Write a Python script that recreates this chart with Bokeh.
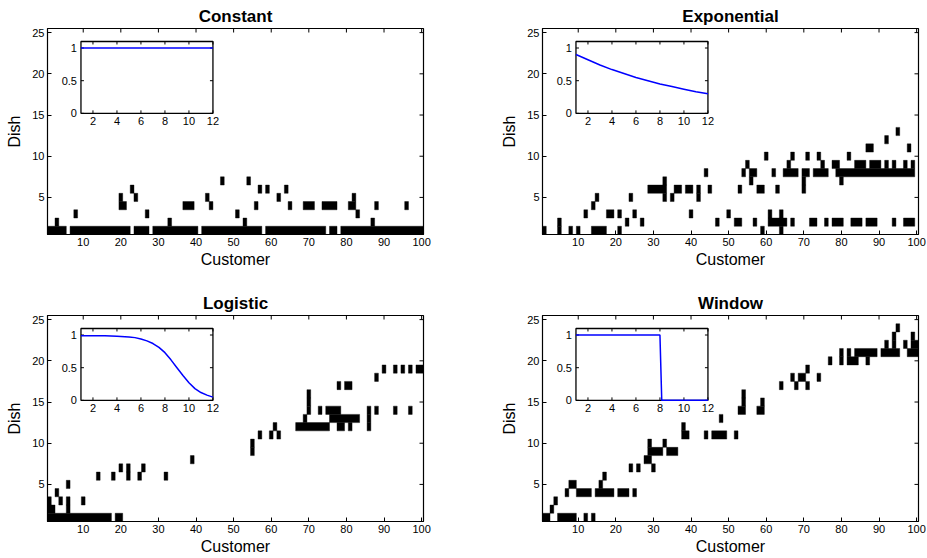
import math
from bokeh.plotting import figure
from bokeh.layouts import row, column
from bokeh.models import Range1d, FixedTicker, ColumnDataSource
from bokeh.embed import file_html
from bokeh.resources import INLINE
from bokeh.core.properties import value

FONT = "Liberation Sans"

# ---------------- data ----------------
TITLES = ["Constant", "Exponential", "Logistic", "Window"]
X_LABEL = "Customer"
Y_LABEL = "Dish"
X_TICKS = [10, 20, 30, 40, 50, 60, 70, 80, 90, 100]
Y_TICKS = [5, 10, 15, 20, 25]
INSET_X_TICKS = [2, 4, 6, 8, 10, 12]
INSET_Y_TICKS = [0, 0.5, 1]
INSET_Y_LABELS = ["0", "0.5", "1"]

# black cells as runs: (dish, first customer, last customer)
CONSTANT_CELLS = [
    (1, 1, 5), (1, 7, 22), (1, 24, 27), (1, 29, 40), (1, 42, 57), (1, 59, 74), (1, 76, 77), (1, 79, 100),
    (2, 3, 3), (2, 33, 33), (2, 53, 53), (2, 87, 87),
    (3, 8, 8), (3, 27, 27), (3, 51, 51), (3, 83, 83),
    (4, 20, 21), (4, 37, 39), (4, 44, 44), (4, 56, 56), (4, 65, 65), (4, 69, 71), (4, 74, 77), (4, 81, 82),
    (4, 88, 88), (4, 96, 96),
    (5, 20, 20), (5, 24, 24), (5, 43, 43), (5, 62, 62), (5, 82, 82),
    (6, 23, 23), (6, 57, 57), (6, 59, 59), (6, 64, 64),
    (7, 47, 47), (7, 54, 54),
]

EXPONENTIAL_CELLS = [
    (1, 1, 1), (1, 5, 5), (1, 8, 8), (1, 10, 10), (1, 14, 17), (1, 21, 21), (1, 59, 59), (1, 64, 64),
    (2, 5, 5), (2, 23, 23), (2, 27, 27), (2, 47, 47), (2, 52, 53), (2, 57, 57), (2, 61, 65), (2, 67, 67),
    (2, 72, 73), (2, 76, 76), (2, 78, 80), (2, 83, 85), (2, 87, 89), (2, 94, 94), (2, 97, 99),
    (3, 12, 12), (3, 18, 19), (3, 21, 21), (3, 25, 25), (3, 40, 40), (3, 50, 50), (3, 61, 61), (3, 64, 64),
    (4, 14, 14),
    (5, 15, 15), (5, 24, 24), (5, 33, 33), (5, 35, 35), (5, 42, 42),
    (6, 29, 33), (6, 36, 37), (6, 39, 40), (6, 42, 42), (6, 45, 45), (6, 53, 53), (6, 58, 59), (6, 63, 63),
    (6, 70, 70),
    (7, 33, 33), (7, 56, 56), (7, 70, 70), (7, 80, 80),
    (8, 44, 44), (8, 54, 54), (8, 56, 57), (8, 62, 62), (8, 65, 68), (8, 70, 71), (8, 73, 76), (8, 79, 99),
    (9, 55, 55), (9, 66, 66), (9, 75, 75), (9, 78, 79), (9, 84, 86), (9, 88, 90), (9, 92, 92), (9, 94, 94),
    (9, 97, 97), (9, 99, 99),
    (10, 60, 60), (10, 67, 67), (10, 71, 71), (10, 74, 74), (10, 82, 82),
    (11, 87, 88), (11, 98, 98),
    (12, 92, 92),
    (13, 95, 95),
]

LOGISTIC_CELLS = [
    (1, 1, 17), (1, 19, 20),
    (2, 1, 2), (2, 6, 6),
    (3, 1, 1), (3, 4, 4), (3, 6, 6), (3, 10, 10),
    (4, 3, 3),
    (5, 6, 6),
    (6, 14, 14), (6, 18, 18), (6, 22, 22), (6, 25, 25), (6, 32, 32),
    (7, 20, 20), (7, 22, 22), (7, 26, 26),
    (8, 39, 39),
    (9, 55, 55), (10, 55, 55),
    (11, 57, 57), (11, 60, 60), (11, 62, 62),
    (12, 61, 61), (12, 67, 75), (12, 78, 79), (12, 81, 81), (12, 86, 86),
    (13, 69, 69), (13, 76, 83), (13, 86, 86),
    (14, 70, 70), (14, 73, 73), (14, 75, 78), (14, 86, 86), (14, 88, 88), (14, 93, 93), (14, 97, 97),
    (15, 70, 70), (16, 70, 70),
    (17, 78, 78), (17, 80, 81),
    (18, 88, 88),
    (19, 90, 90), (19, 93, 93), (19, 95, 95), (19, 97, 97), (19, 99, 100),
]

WINDOW_CELLS = [
    (1, 1, 2), (1, 5, 9), (1, 12, 12), (1, 14, 14),
    (2, 3, 3), (3, 4, 4),
    (4, 7, 7), (4, 10, 13), (4, 15, 19), (4, 21, 23), (4, 25, 25),
    (5, 8, 9), (5, 16, 16),
    (6, 17, 17),
    (7, 24, 24), (7, 26, 26), (7, 30, 30),
    (8, 28, 29),
    (9, 29, 32), (9, 34, 36),
    (10, 29, 29), (10, 33, 33),
    (11, 38, 39), (11, 44, 44), (11, 46, 49), (11, 52, 52),
    (12, 38, 38),
    (13, 48, 48),
    (14, 53, 54), (14, 58, 59),
    (15, 54, 54), (15, 59, 59),
    (16, 54, 54),
    (17, 64, 64), (17, 68, 68), (17, 71, 71),
    (18, 67, 67), (18, 69, 70), (18, 74, 74),
    (19, 71, 71),
    (20, 77, 77), (20, 80, 80), (20, 82, 84), (20, 87, 87),
    (21, 80, 80), (21, 82, 82), (21, 84, 89), (21, 91, 95), (21, 98, 100),
    (22, 92, 92), (22, 94, 94), (22, 97, 97), (22, 99, 100),
    (23, 94, 94), (23, 99, 99),
    (24, 95, 95),
]

# inset decay curves
CONST_T = [1, 12]
CONST_W = [1.0, 1.0]
EXP_T = [1, 2, 3, 4, 5, 6, 7, 8, 9, 10, 11, 12]
EXP_W = [0.90, 0.82, 0.74, 0.67, 0.61, 0.55, 0.50, 0.45, 0.41, 0.37, 0.33, 0.30]
LOG_T = [1, 2, 3, 4, 5, 5.5, 6, 6.5, 7, 7.5, 8, 8.5, 9, 9.5, 10, 10.5, 11, 11.5, 12]
LOG_W = [0.99, 0.99, 0.99, 0.98, 0.97, 0.96, 0.94, 0.91, 0.87, 0.81, 0.73, 0.62, 0.50, 0.38, 0.27,
         0.18, 0.12, 0.08, 0.05]
WIN_T = [1, 8, 8.15, 12]
WIN_W = [1.0, 1.0, 0.0, 0.0]

# ---------------- layout constants ----------------
FW, FH = 376, 206
X_MIN, X_MAX = 0.5, 100.5
Y_MIN, Y_MAX = 0.5, 25.5
INSET_T0, INSET_T1 = 1, 12
INSET_W0, INSET_W1 = 0, 1.1
# inset box expressed as fractions of the main frame
IFX0, IFX1 = 0.089, 0.440
IFY0, IFY1 = 0.588, 0.937


def make_panel(title, cells, t, w, lb, rb, tb, bb):
    p = figure(frame_width=FW, frame_height=FH,
               x_range=Range1d(X_MIN, X_MAX), y_range=Range1d(Y_MIN, Y_MAX),
               output_backend="svg", toolbar_location=None, title=title,
               min_border_left=lb, min_border_right=rb, min_border_top=tb, min_border_bottom=bb)
    p.title.text_font = FONT
    p.title.text_font_size = "17px"
    p.title.text_font_style = "bold"
    p.title.align = "center"
    p.title.vertical_align = "top"
    p.title.text_color = "black"
    p.title.standoff = 2
    p.grid.visible = False
    p.background_fill_color = "white"
    p.border_fill_color = "white"
    p.outline_line_color = "black"
    p.outline_line_width = 1.2
    p.outline_line_alpha = 1

    for ax in (p.xaxis[0], p.yaxis[0]):
        ax.major_tick_in = 4
        ax.major_tick_out = 0
        ax.minor_tick_line_color = None
        ax.axis_line_color = "black"
        ax.major_tick_line_color = "black"
        ax.major_label_text_font = FONT
        ax.major_label_text_font_size = "11px"
        ax.major_label_text_color = "black"
        ax.axis_label_text_font = FONT
        ax.axis_label_text_font_size = "16px"
        ax.axis_label_text_font_style = "normal"
        ax.axis_label_text_color = "black"
    p.xaxis.ticker = FixedTicker(ticks=X_TICKS)
    p.yaxis.ticker = FixedTicker(ticks=Y_TICKS)
    p.xaxis.axis_label = X_LABEL
    p.yaxis.axis_label = Y_LABEL
    p.xaxis.major_label_standoff = 3
    p.xaxis.axis_label_standoff = 2
    p.yaxis.major_label_standoff = 3
    p.yaxis.axis_label_standoff = 6

    # cells
    src = ColumnDataSource(dict(
        left=[c[1] - 0.5 for c in cells], right=[c[2] + 0.5 for c in cells],
        bottom=[c[0] - 0.5 for c in cells], top=[c[0] + 0.5 for c in cells]))
    p.quad(left="left", right="right", bottom="bottom", top="top", source=src,
           fill_color="black", line_color="black", line_width=0.4)

    # ticks on top and right edges (half clipped by the frame -> inward ticks)
    p.scatter(x=X_TICKS, y=[Y_MAX] * len(X_TICKS), marker="dash", angle=math.pi / 2,
              size=8, line_color="black", line_width=1)
    p.scatter(x=[X_MAX] * len(Y_TICKS), y=Y_TICKS, marker="dash",
              size=8, line_color="black", line_width=1)

    # inset via extra ranges
    span_t = (INSET_T1 - INSET_T0) / (IFX1 - IFX0)
    span_w = (INSET_W1 - INSET_W0) / (IFY1 - IFY0)
    p.extra_x_ranges = {"ix": Range1d(INSET_T0 - IFX0 * span_t, INSET_T0 + (1 - IFX0) * span_t)}
    p.extra_y_ranges = {"iy": Range1d(INSET_W0 - IFY0 * span_w, INSET_W0 + (1 - IFY0) * span_w)}
    kw = dict(x_range_name="ix", y_range_name="iy")
    p.quad(left=[INSET_T0], right=[INSET_T1], bottom=[INSET_W0], top=[INSET_W1],
           fill_color="white", line_color="black", line_width=1.3, **kw)
    dy = 3 * span_w / FH
    dx = 3 * span_t / FW
    n = len(INSET_X_TICKS)
    p.segment(x0=INSET_X_TICKS, y0=[INSET_W0] * n, x1=INSET_X_TICKS, y1=[INSET_W0 + dy] * n,
              line_color="black", line_width=1, **kw)
    p.segment(x0=INSET_X_TICKS, y0=[INSET_W1] * n, x1=INSET_X_TICKS, y1=[INSET_W1 - dy] * n,
              line_color="black", line_width=1, **kw)
    m = len(INSET_Y_TICKS)
    p.segment(x0=[INSET_T0] * m, y0=INSET_Y_TICKS, x1=[INSET_T0 + dx] * m, y1=INSET_Y_TICKS,
              line_color="black", line_width=1, **kw)
    p.segment(x0=[INSET_T1] * m, y0=INSET_Y_TICKS, x1=[INSET_T1 - dx] * m, y1=INSET_Y_TICKS,
              line_color="black", line_width=1, **kw)
    p.line(t, w, line_color="#0000ff", line_width=1.5, **kw)
    p.text(x=INSET_X_TICKS, y=[INSET_W0] * n, text=[str(v) for v in INSET_X_TICKS],
           text_align="center", text_baseline="top", y_offset=4,
           text_font=value(FONT), text_font_size="11px", text_color="black", **kw)
    p.text(x=[INSET_T0] * m, y=INSET_Y_TICKS, text=INSET_Y_LABELS,
           text_align="right", text_baseline="middle", x_offset=-4,
           text_font=value(FONT), text_font_size="11px", text_color="black", **kw)
    return p


p1 = make_panel(TITLES[0], CONSTANT_CELLS, CONST_T, CONST_W, 47, 55, 28, 37)
p2 = make_panel(TITLES[1], EXPONENTIAL_CELLS, EXP_T, EXP_W, 64, 9, 28, 37)
p3 = make_panel(TITLES[2], LOGISTIC_CELLS, LOG_T, LOG_W, 47, 55, 44, 37)
p4 = make_panel(TITLES[3], WINDOW_CELLS, WIN_T, WIN_W, 64, 9, 44, 37)

layout = column(row(p1, p2), row(p3, p4))

with open("out.html", "w") as f:
    f.write(file_html(layout, INLINE, title="Decay functions"))
